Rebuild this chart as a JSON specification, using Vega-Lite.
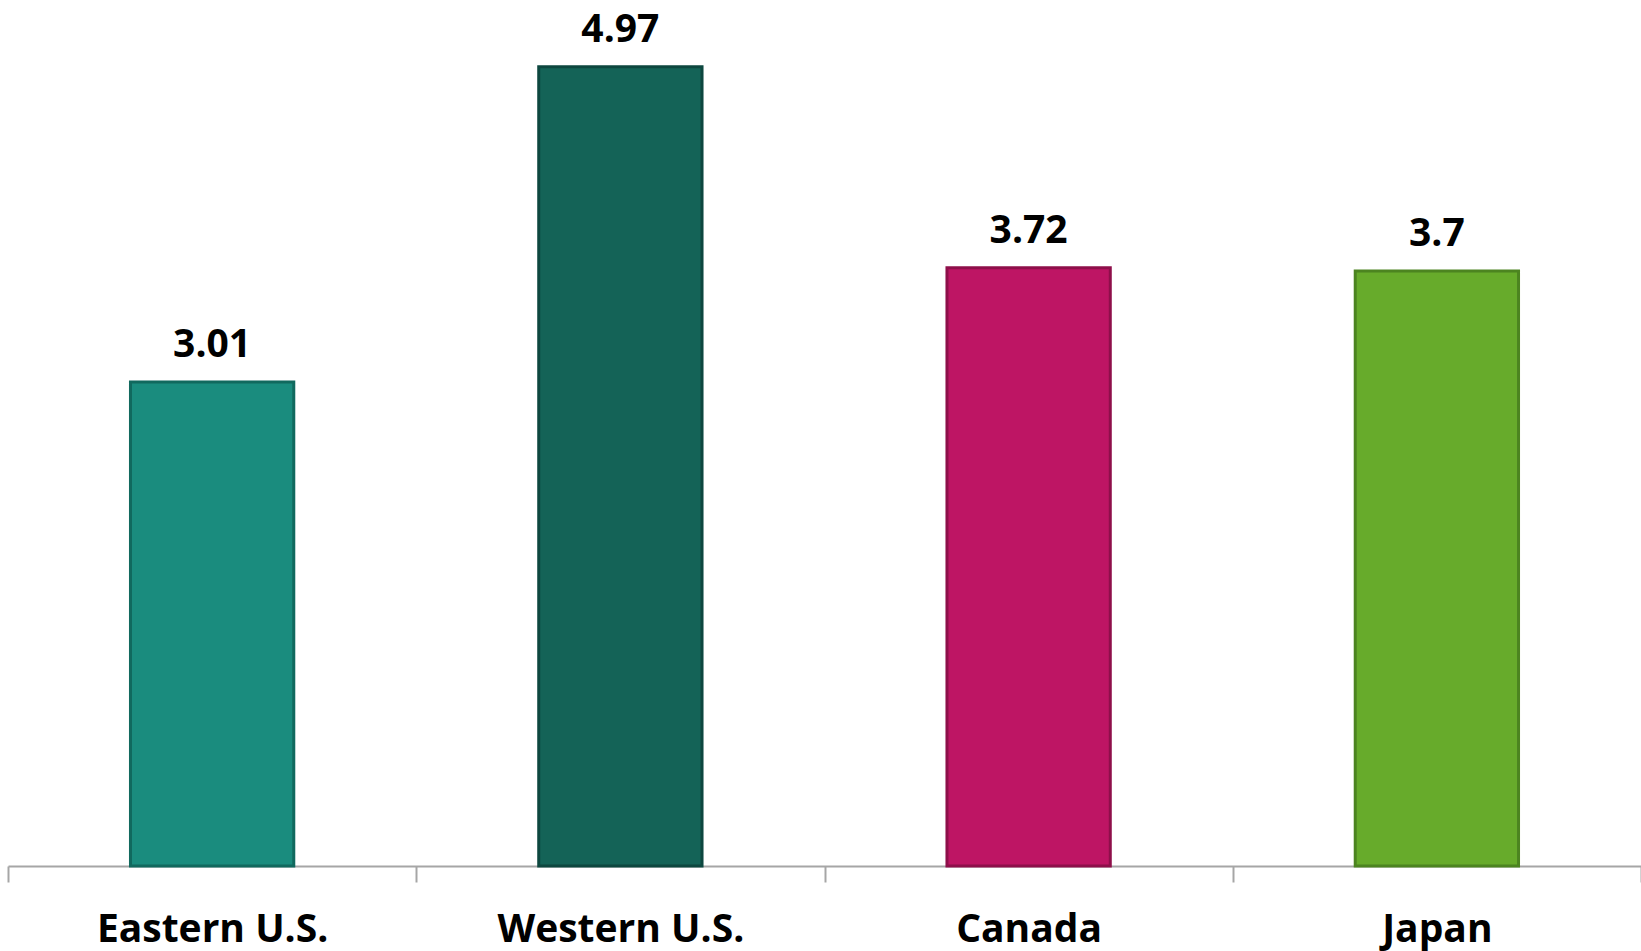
{
  "$schema": "https://vega.github.io/schema/vega-lite/v6.json",
  "autosize": {"type": "none"},
  "padding": {"left": 8, "top": 0, "right": 0, "bottom": 85},
  "width": 1633,
  "height": 866,
  "background": "white",
  "config": {"view": {"stroke": null}},
  "data": {"values": [
    {"region": "Eastern U.S.", "value": 3.01, "label": "3.01"},
    {"region": "Western U.S.", "value": 4.97, "label": "4.97"},
    {"region": "Canada", "value": 3.72, "label": "3.72"},
    {"region": "Japan", "value": 3.7, "label": "3.7"}
  ]},
  "encoding": {
    "x": {
      "field": "region", "type": "nominal", "sort": null, "title": null,
      "scale": {"paddingInner": 0, "paddingOuter": 0},
      "axis": {
        "labelAngle": 0, "labelFont": "Open Sans", "labelFontWeight": "bold",
        "labelFontSize": 39, "labelColor": "#000000", "labelBaseline": "alphabetic",
        "labelPadding": 59, "labelLimit": 0, "tickBand": "extent", "tickSize": 16,
        "tickColor": "#a6a6a6", "tickWidth": 2, "domainColor": "#a6a6a6", "domainWidth": 2,
        "grid": false
      }
    },
    "y": {
      "field": "value", "type": "quantitative",
      "scale": {"domain": [0, 5.385], "nice": false, "zero": true},
      "axis": null
    }
  },
  "layer": [
    {
      "mark": {"type": "bar", "width": {"band": 0.4}, "strokeWidth": 3},
      "encoding": {
        "color": {
          "field": "region", "type": "nominal", "sort": null, "legend": null,
          "scale": {"domain": ["Eastern U.S.", "Western U.S.", "Canada", "Japan"],
                    "range": ["#1a8c7e", "#146357", "#be1564", "#67ab2b"]}
        },
        "stroke": {
          "field": "region", "type": "nominal", "sort": null, "legend": null,
          "scale": {"domain": ["Eastern U.S.", "Western U.S.", "Canada", "Japan"],
                    "range": ["#11695e", "#0d473f", "#8e0f4a", "#4c8420"]}
        }
      }
    },
    {
      "mark": {"type": "text", "baseline": "alphabetic", "dy": -25,
               "font": "Open Sans", "fontWeight": "bold", "fontSize": 39, "color": "#000000"},
      "encoding": {"text": {"field": "label"}}
    }
  ]
}
